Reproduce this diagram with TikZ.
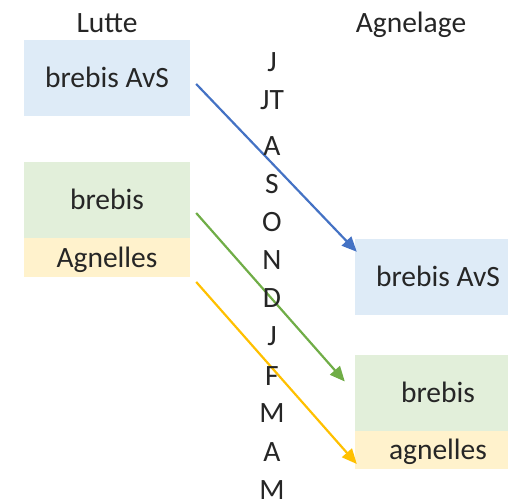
\documentclass[tikz,border=0pt]{standalone}
\usepackage{fontspec}
\setmainfont{Carlito}
\usepackage{tikz}
\usetikzlibrary{arrows.meta}
\definecolor{avsfill}{HTML}{DEEBF7}
\definecolor{brebisfill}{HTML}{E2EFDA}
\definecolor{agnfill}{HTML}{FFF2CC}
\definecolor{avsline}{HTML}{4472C4}
\definecolor{brebisline}{HTML}{70AD47}
\definecolor{agnline}{HTML}{FFC000}
\begin{document}
\begin{tikzpicture}[x=1pt,y=-1pt,
    every node/.style={font=\fontsize{29.5}{35}\selectfont,text=black!85,inner sep=0pt,text height=19pt,text depth=0pt},
    box/.style={minimum width=166pt,minimum height=76pt},
    thin box/.style={minimum width=166pt,minimum height=38.5pt},
    link/.style={line width=2.2pt,-{Triangle[length=15pt,width=13pt]}}]
                \useasboundingbox (0,0) rectangle (508,501);
                \node (lutte) at (107,23) {Lutte};
                \node (agnelage) at (411,23) {Agnelage};
                \node[box,fill=avsfill] (avsL) at (107,78) {brebis AvS};
                \node[box,fill=brebisfill] (brebisL) at (107,200) {brebis};
                \node[thin box,fill=agnfill] (agnL) at (107,257.5) {Agnelles};
                \node[box,fill=avsfill] (avsR) at (438,277) {brebis AvS};
                \node[box,fill=brebisfill] (brebisR) at (438,392.5) {brebis};
                \node[thin box,fill=agnfill] (agnR) at (438,450) {agnelles};
            
                \draw[link,avsline] ([shift={(6,6)}]avsL.east) -- ([shift={(2,13)}]avsR.north west);
                \draw[link,brebisline] ([shift={(6,13)}]brebisL.east) -- ([shift={(-10,-11)}]brebisR.west);
                \draw[link,agnline] ([shift={(6,5)}]agnL.south east) -- ([shift={(2,14)}]agnR.west);
            
                \foreach \m/\y [count=\i] in {J/62,JT/100,A/146,S/184,O/222,N/260,D/298,J/336,F/376,M/413,A/452,M/490}{
                    \node (m\i) at (272,\y) {\m};
                }
            \end{tikzpicture}
\end{document}
